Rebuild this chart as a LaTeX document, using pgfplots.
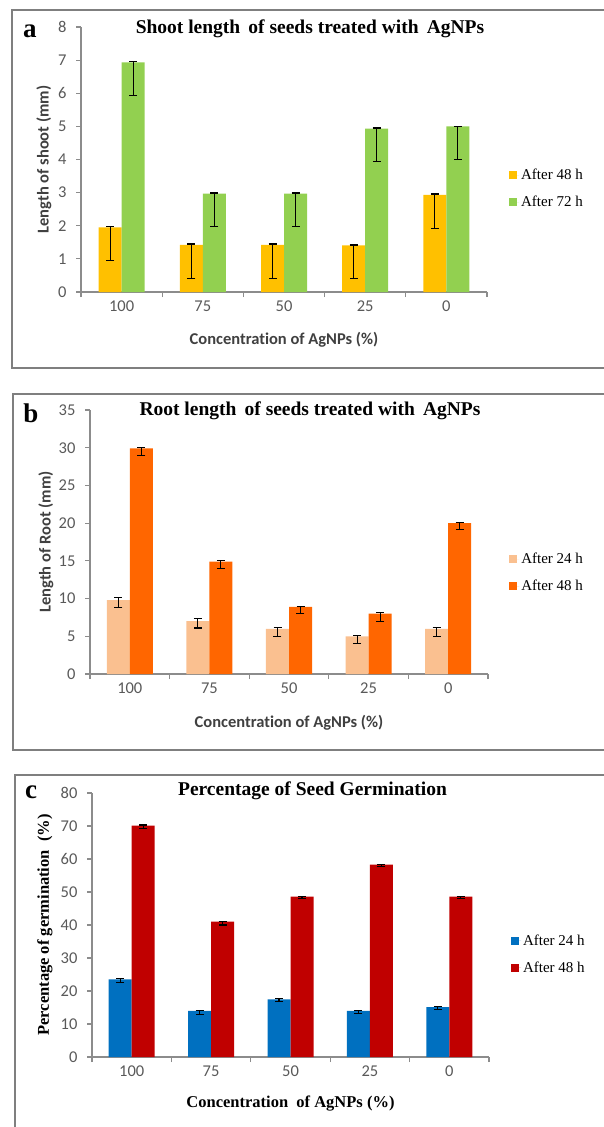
\documentclass[border=0pt]{standalone}
\usepackage{pgfplots}
\pgfplotsset{compat=1.18}
\usepackage{fontspec}
\setmainfont{Liberation Serif}
\newfontfamily\carlito{Carlito}[Ligatures=NoCommon]
\newfontfamily\serifleg{Liberation Serif}
\newcommand{\legtxt}[1]{{\serifleg\fontsize{15}{17}\selectfont #1}}
\definecolor{axisgray}{HTML}{8C8C8C}
\definecolor{tickgray}{HTML}{595959}
\definecolor{labgray}{HTML}{404040}
\definecolor{framegray}{HTML}{7F7F7F}
\definecolor{cA1}{HTML}{FFC000}
\definecolor{cA2}{HTML}{92D050}
\definecolor{cB1}{HTML}{FAC090}
\definecolor{cB2}{HTML}{FF6600}
\definecolor{cC1}{HTML}{0070C0}
\definecolor{cC2}{HTML}{C00000}
\pgfplotsset{
  panel/.style={
    scale only axis, ybar=0pt, bar width=23pt,
    axis x line*=bottom, axis y line*=left,
    axis line style={draw=axisgray, line width=1.1pt},
    xmin=-0.5, xmax=4.5, ymin=0,
    xtick={-0.5,0.5,1.5,2.5,3.5,4.5}, xticklabels={},
    extra x ticks={0,1,2,3,4}, extra x tick labels={100,75,50,25,0},
    extra x tick style={major tick length=0pt},
    tick align=outside, major tick length=5pt,
    tick style={draw=axisgray, line width=1.1pt},
    ticklabel style={font=\carlito\fontsize{16.5}{18}\selectfont, text=tickgray},
    /pgf/number format/assume math mode=true,
    yticklabel style={xshift=-6pt},
    xticklabel style={yshift=-5pt},
    legend style={draw=none, fill=none, anchor=west,
      row sep=11pt, inner sep=0pt, nodes={text=black}},
    legend cell align=left,
    error bars/y dir=both, error bars/y explicit,
    error bars/error bar style={black, line width=1.1pt},
    error bars/error mark options={rotate=90, mark size=4pt, black, line width=1.1pt},
    every axis x label/.style={at={(axis description cs:0.5,0)}, anchor=center},
    every axis y label/.style={at={(axis description cs:0,0.5)}, rotate=90, anchor=center},
    title style={at={(axis description cs:0.5,1)}, anchor=center, font=\rmfamily\bfseries\fontsize{19.5}{21}\selectfont},
  },
  sq/.style={legend image code/.code={\path[##1, draw=none] (0pt,-4pt) rectangle (8pt,4pt); \path (0pt,0pt) -- (10pt,0pt);}},
}
\begin{document}
\begin{tikzpicture}
\useasboundingbox (0pt,0pt) rectangle (604pt,-1127pt);
% frames
\draw[framegray, line width=1.6pt] (608pt,-10pt) -- (12pt,-10pt) -- (12pt,-368pt) -- (608pt,-368pt);
\draw[framegray, line width=1.6pt] (608pt,-394pt) -- (13pt,-394pt) -- (13pt,-750pt) -- (608pt,-750pt);
\draw[framegray, line width=1.6pt] (608pt,-775pt) -- (15pt,-775pt) -- (15pt,-1135pt);
% panel letters
\node[font=\bfseries\fontsize{27}{29}\selectfont] at (30pt,-31pt) {a};
\node[font=\bfseries\fontsize{27}{29}\selectfont] at (31pt,-413pt) {b};
\node[font=\bfseries\fontsize{27}{29}\selectfont] at (31pt,-792pt) {c};

% ---------- panel a ----------
\begin{axis}[panel, at={(81pt,-292pt)}, anchor=south west, width=406pt, height=265pt,
  ymax=8, ytick={0,1,...,8},
  title={Shoot length\, of seeds treated with\, AgNPs}, title style={xshift=26pt, yshift=-8pt},
  xlabel={\carlito\bfseries Concentration of AgNPs (\%)},
  xlabel style={yshift=-48pt, font=\fontsize{16.5}{18}\selectfont, text=labgray},
  ylabel={\carlito\bfseries Length of shoot (mm)},
  ylabel style={xshift=0pt, yshift=37pt, font=\fontsize{16.5}{18}\selectfont, text=labgray},
  legend style={at={(axis description cs:1.054,0.389)}},
]
\addplot[fill=cA1, draw=none, sq] coordinates {
 (0,1.95) += (0,0.03) -= (0,1.0)
 (1,1.42) += (0,0.03) -= (0,1.0)
 (2,1.42) += (0,0.03) -= (0,1.0)
 (3,1.41) += (0,0.01) -= (0,1.0)
 (4,2.93) += (0,0.03) -= (0,1.0)
};
\addplot[fill=cA2, draw=none, sq] coordinates {
 (0,6.93) += (0,0.02) -= (0,1.0)
 (1,2.97) += (0,0.02) -= (0,1.0)
 (2,2.97) += (0,0.02) -= (0,1.0)
 (3,4.93) += (0,0.02) -= (0,1.0)
 (4,5.00) += (0,0.01) -= (0,1.0)
};
\legend{\legtxt{After 48 h}, \legtxt{After 72 h}}
\end{axis}

% ---------- panel b ----------
\begin{axis}[panel, at={(90pt,-674pt)}, anchor=south west, width=398pt, height=264pt,
  ymax=35, ytick={0,5,...,35},
  title={Root length\, of seeds treated with\, AgNPs}, title style={xshift=21pt, yshift=-7pt},
  xlabel={\carlito\bfseries Concentration of AgNPs (\%)},
  xlabel style={yshift=-49pt, font=\fontsize{16.5}{18}\selectfont, text=labgray},
  ylabel={\carlito\bfseries Length of Root (mm)},
  ylabel style={yshift=44pt, font=\fontsize{16.5}{18}\selectfont, text=labgray},
  legend style={at={(axis description cs:1.053,0.384)}},
]
\addplot[fill=cB1, draw=none, sq] coordinates {
 (0,9.8) += (0,0.4) -= (0,1.0)
 (1,7.0) += (0,0.3) -= (0,0.9)
 (2,6.0) += (0,0.2) -= (0,1.0)
 (3,5.0) += (0,0.1) -= (0,1.0)
 (4,6.0) += (0,0.2) -= (0,1.0)
};
\addplot[fill=cB2, draw=none, sq] coordinates {
 (0,29.9) += (0,0.1) -= (0,0.9)
 (1,14.9) += (0,0.1) -= (0,0.9)
 (2,8.9) += (0,0.1) -= (0,0.9)
 (3,8.0) += (0,0.1) -= (0,1.0)
 (4,20.0) += (0,0.1) -= (0,0.9)
};
\legend{\legtxt{After 24 h}, \legtxt{After 48 h}}
\end{axis}

% ---------- panel c ----------
\begin{axis}[panel, at={(92pt,-1057pt)}, anchor=south west, width=397pt, height=264pt,
  ymax=80, ytick={0,10,...,80},
  title={Percentage of Seed Germination}, title style={xshift=22pt, yshift=-4pt},
  xlabel={\bfseries Concentration\ \ of AgNPs (\%)},
  xlabel style={yshift=-46pt, font=\rmfamily\fontsize{16.5}{18}\selectfont, text=black},
  ylabel={\bfseries Percentage of germination\ \ (\%)},
  ylabel style={yshift=47pt, font=\rmfamily\fontsize{16.5}{18}\selectfont, text=black},
  legend style={at={(axis description cs:1.055,0.39)}},
]
\addplot[fill=cC1, draw=none, sq] coordinates {
 (0,23.5) += (0,0.3) -= (0,0.8)
 (1,14.0) += (0,0.1) -= (0,1.2)
 (2,17.5) += (0,0.2) -= (0,0.6)
 (3,14.0) += (0,0.1) -= (0,0.7)
 (4,15.1) += (0,0.2) -= (0,0.7)
};
\addplot[fill=cC2, draw=none, sq] coordinates {
 (0,70.1) += (0,0.2) -= (0,0.8)
 (1,41.0) += (0,0.2) -= (0,1.0)
 (2,48.6) += (0,0.1) -= (0,0.6)
 (3,58.3) += (0,0.1) -= (0,0.5)
 (4,48.6) += (0,0.1) -= (0,0.6)
};
\legend{\legtxt{After 24 h}, \legtxt{After 48 h}}
\end{axis}
\end{tikzpicture}
\end{document}
